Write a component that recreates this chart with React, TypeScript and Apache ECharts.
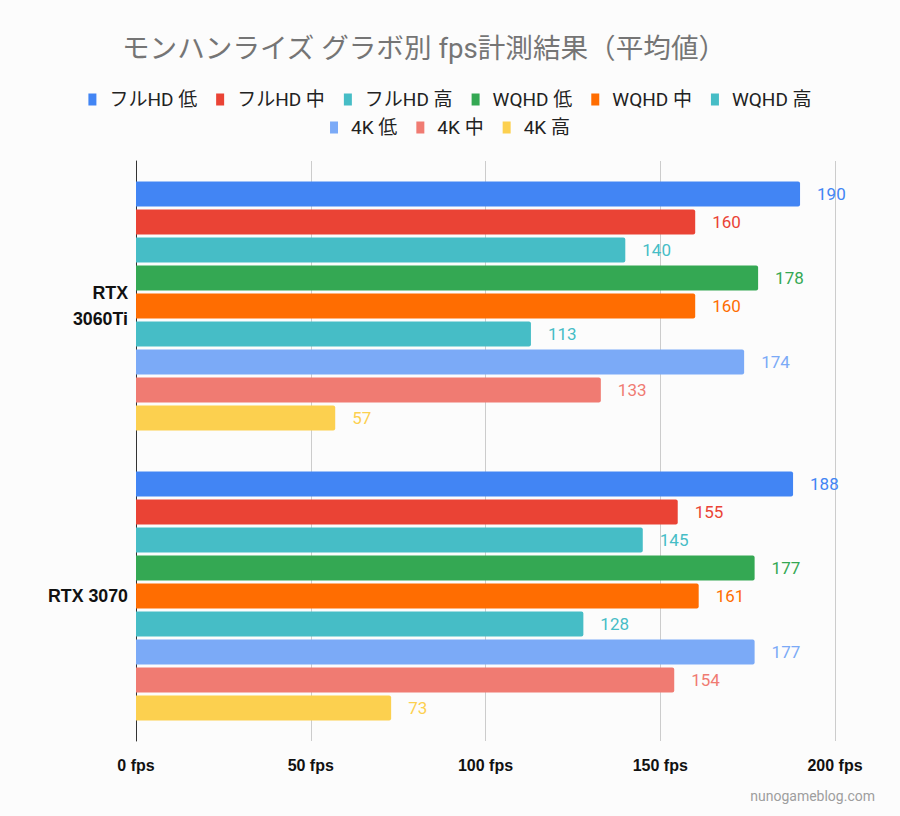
import React, { useEffect, useRef } from "react";
import * as echarts from "echarts";

const categories = ["RTX\n3060Ti", "RTX 3070"];
const seriesNames = ["フルHD 低", "フルHD 中", "フルHD 高", "WQHD 低", "WQHD 中", "WQHD 高", "4K 低", "4K 中", "4K 高"];
const seriesColors = ["#4285f4", "#ea4335", "#46bdc6", "#34a853", "#ff6d01", "#46bdc6", "#7baaf7", "#f07b72", "#fcd04f"];
const rtx3060ti = [190, 160, 140, 178, 160, 113, 174, 133, 57];
const rtx3070 = [188, 155, 145, 177, 161, 128, 177, 154, 73];
const xTicks = [0, 50, 100, 150, 200];

const FONT = "Roboto, 'Noto Sans CJK JP', sans-serif";
const AXFONT = "'Liberation Sans', Arial, sans-serif";

export default function App() {
  const ref = useRef<HTMLDivElement>(null);
  useEffect(() => {
    document.body.style.margin = "0";
    if (!ref.current) return;
    const chart = echarts.init(ref.current, undefined, { renderer: "svg" });
    const series = seriesNames.map((name, i) => ({
      name,
      type: "bar",
      data: [rtx3060ti[i], rtx3070[i]],
      barWidth: 25,
      barGap: "12%",
      itemStyle: { color: seriesColors[i], borderRadius: [0, 2, 2, 0] },
      label: {
        show: true,
        position: "right",
        distance: 17,
        color: seriesColors[i],
        fontSize: 17,
        fontFamily: FONT,
      },
    }));
    const legendBase = {
      left: "center",
      icon: "rect",
      itemWidth: 8,
      itemHeight: 12,
      itemGap: 19,
      textStyle: { color: "#222", fontSize: 19, fontFamily: FONT, padding: [0, 0, 0, 8] },
    };
    chart.setOption({
      animation: false,
      backgroundColor: "#fcfcfc",
      title: {
        text: "モンハンライズ グラボ別 fps計測結果（平均値）",
        left: 117,
        top: 30,
        textStyle: { color: "#757575", fontSize: 27.6, fontWeight: "normal", fontFamily: FONT },
      },
      legend: [
        { ...legendBase, data: seriesNames.slice(0, 6), top: 85 },
        { ...legendBase, data: seriesNames.slice(6), top: 113 },
      ],
      grid: { left: 136, right: 65, top: 161, height: 580 },
      xAxis: {
        type: "value",
        min: 0,
        max: 200,
        interval: 50,
        axisLine: { show: false },
        axisTick: { show: false },
        splitLine: { show: true, lineStyle: { color: "#cccccc" } },
        axisLabel: {
          formatter: (v: number) => (xTicks.includes(v) ? `${v} fps` : ""),
          color: "#111",
          fontSize: 16,
          fontWeight: "bold",
          fontFamily: AXFONT,
          margin: 16,
        },
      },
      yAxis: {
        type: "category",
        data: categories,
        inverse: true,
        axisLine: { show: true, lineStyle: { color: "#333" } },
        axisTick: { show: false },
        axisLabel: {
          color: "#111",
          fontSize: 17.8,
          fontWeight: "bold",
          fontFamily: AXFONT,
          margin: 8,
          lineHeight: 26,
        },
      },
      graphic: [
        {
          type: "text",
          right: 25,
          top: 789,
          style: { text: "nunogameblog.com", fill: "#9e9e9e", fontSize: 14, fontFamily: FONT },
        },
      ],
      series,
    });
    return () => chart.dispose();
  }, []);
  return <div ref={ref} style={{ width: 900, height: 816 }} />;
}
